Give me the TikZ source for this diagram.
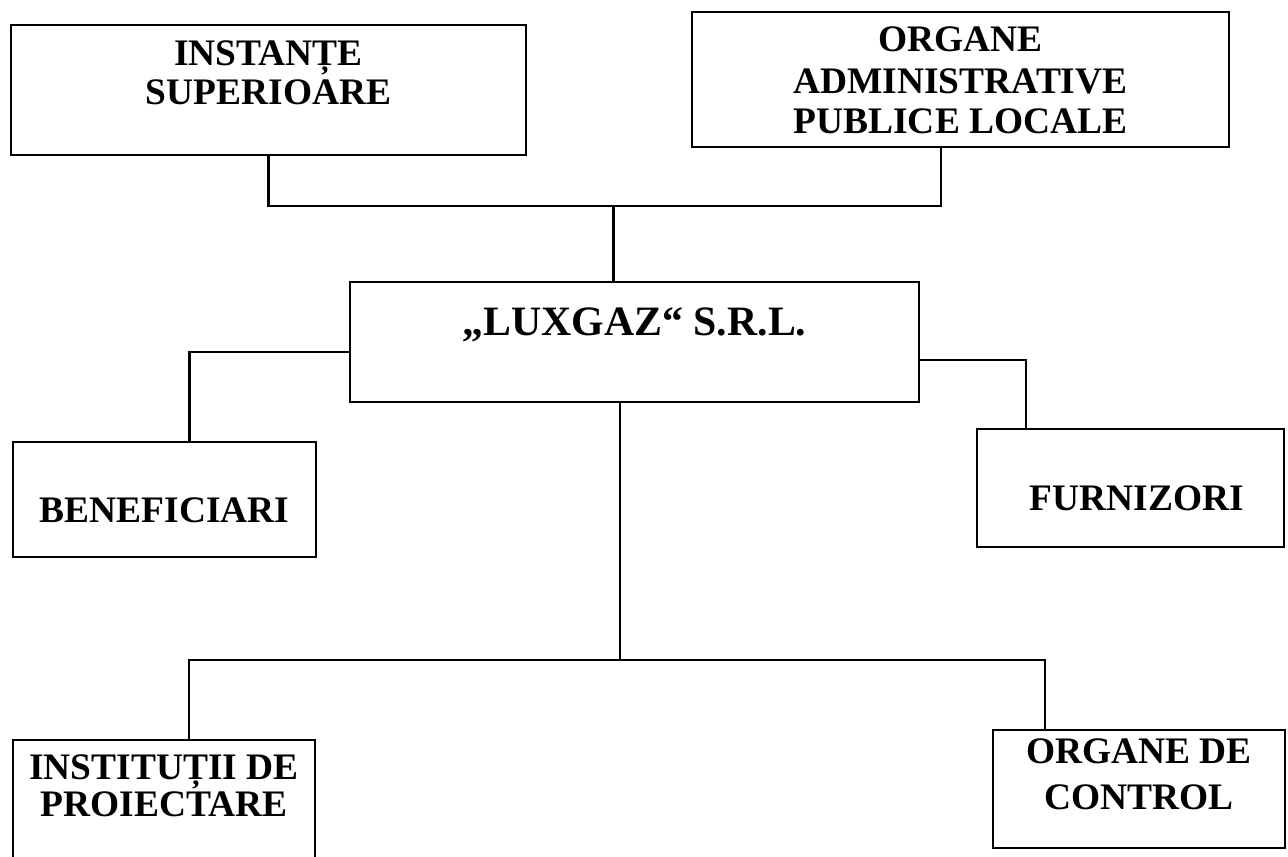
\documentclass[tikz,border=0pt]{standalone}
\usepackage{fontspec}
\setmainfont{Liberation Serif}
\usetikzlibrary{calc,positioning}

\begin{document}
\begin{tikzpicture}[font=\bfseries\fontsize{21.3}{23}\selectfont,
		box/.style={draw, line width=1.1pt, inner sep=0pt},
		lbl/.style={align=center, inner sep=0pt},
		conn/.style={line width=1.3pt}]
		\useasboundingbox (0,0) rectangle (25.76,17.12);
		% boxes
		\node[box, minimum width=10.30cm, minimum height=2.60cm] (inst) at (5.37,15.32) {};
		\node[box, minimum width=10.74cm, minimum height=2.70cm] (org) at (19.21,15.53) {};
		\node[box, minimum width=11.38cm, minimum height=2.40cm] (lux) at (12.69,10.28) {};
		\node[box, minimum width=6.06cm, minimum height=2.30cm] (ben) at (3.29,7.13) {};
		\node[box, minimum width=6.14cm, minimum height=2.36cm] (furn) at (22.61,7.36) {};
		\node[box, minimum width=6.04cm, minimum height=3.20cm] (inp) at (3.28,0.72) {};
		\node[box, minimum width=5.84cm, minimum height=2.36cm] (ctrl) at (22.78,1.34) {};
		% texts
		\node[lbl, below=0.33cm of inst.north] (inst-t) {INSTANȚE\\[-0.8pt]SUPERIOARE};
		\node[lbl, below=0.31cm of org.north] (org-t) {ORGANE\\[0.6pt]ADMINISTRATIVE\\[0.2pt]PUBLICE LOCALE};
		\node[lbl, below=0.52cm of lux.north, font=\bfseries\fontsize{23.8}{26}\selectfont] (lux-t) {„LUXGAZ“ S.R.L.};
		\node[lbl, below=1.13cm of ben.north] (ben-t) {BENEFICIARI};
		\node[lbl, below=1.15cm of furn.north, xshift=0.13cm] (furn-t) {FURNIZORI};
		\node[lbl, below=0.31cm of inp.north] (inp-t) {INSTITUȚII DE\\[-1.8pt]PROIECTARE};
		\node[lbl, below=0.18cm of ctrl.north] (ctrl-t) {ORGANE DE\\[3.5pt]CONTROL};
		% connectors
		\coordinate (top-j) at (12.27,13.0);
		\coordinate (bot-j) at (12.40,3.92);
		\draw[conn] (inst.south) |- (top-j) -| ([xshift=-0.39cm]org.south);
		\draw[conn] (top-j) -- (top-j |- lux.north);
		\draw[conn] ([yshift=-0.2cm]lux.west) -| ([xshift=0.5cm]ben.north);
		\draw[conn] ([yshift=-0.36cm]lux.east) -| ([xshift=1cm]furn.north west);
		\draw[conn] (bot-j |- lux.south) -- (bot-j);
		\draw[conn] ([xshift=0.5cm]inp.north) |- (bot-j) -| ([xshift=1.06cm]ctrl.north west);
	\end{tikzpicture}
\end{document}
